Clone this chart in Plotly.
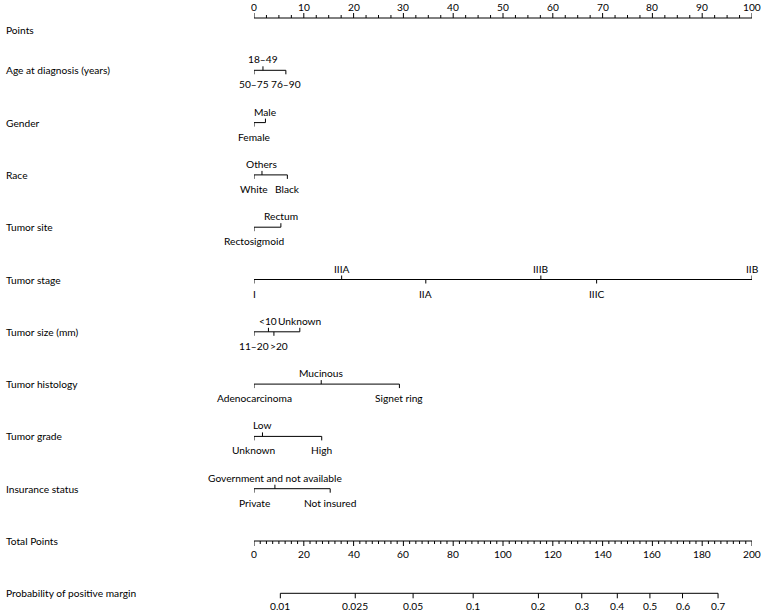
import math
import plotly.graph_objects as go

# ---------------- data ----------------
row_labels = ["Points", "Age at diagnosis (years)", "Gender", "Race", "Tumor site",
              "Tumor stage", "Tumor size (mm)", "Tumor histology", "Tumor grade",
              "Insurance status", "Total Points", "Probability of positive margin"]

age_cats = ["18–49", "50–75", "76–90"]
age_pts = [1.8, 0, 6.4]
age_side = ["up", "down", "down"]

gender_cats = ["Male", "Female"]
gender_pts = [2.3, 0]
gender_side = ["up", "down"]

race_cats = ["Others", "White", "Black"]
race_pts = [1.6, 0, 6.7]
race_side = ["up", "down", "down"]

site_cats = ["Rectum", "Rectosigmoid"]
site_pts = [5.4, 0]
site_side = ["up", "down"]

stage_cats = ["IIIA", "IIIB", "IIB", "I", "IIA", "IIIC"]
stage_pts = [17.6, 57.6, 100, 0, 34.5, 68.8]
stage_side = ["up", "up", "up", "down", "down", "down"]

size_cats = ["<10", "Unknown", "11–20", ">20"]
size_pts = [2.9, 9.2, 0, 4.0]
size_side = ["up", "up", "down", "down"]

hist_cats = ["Mucinous", "Adenocarcinoma", "Signet ring"]
hist_pts = [13.5, 0, 29.2]
hist_side = ["up", "down", "down"]

grade_cats = ["Low", "Unknown", "High"]
grade_pts = [1.7, 0, 13.6]
grade_side = ["up", "down", "down"]

ins_cats = ["Government and not available", "Private", "Not insured"]
ins_pts = [4.2, 0, 15.3]
ins_side = ["up", "down", "down"]

points_major = list(range(0, 101, 10))
points_minor_step = 2.5
total_major = list(range(0, 201, 20))
total_minor_step = 2.5
total_max = 200
prob_ticks = [0.01, 0.025, 0.05, 0.1, 0.2, 0.3, 0.4, 0.5, 0.6, 0.7]
prob_labels = ["0.01", "0.025", "0.05", "0.1", "0.2", "0.3", "0.4", "0.5", "0.6", "0.7"]
tp_intercept = 159.0   # total points at logit = 0
tp_slope = 32.3        # total points per logit unit

# ---------------- styling ----------------
FONT = "Lato"
FS = 10.2
ROW_PX = 52.3
TOP_PX = 18
W, H = 764, 613
ML, MR = 254, 12
px = 1.0 / ROW_PX  # one pixel in row units
label_xshift = {">20": 5}

fig = go.Figure()
annotations = []
lx, ly = [], []


def seg(x0, y0, x1, y1):
    lx.extend([x0, x1, None])
    ly.extend([y0, y1, None])


def text(x, y, s, yshift=0, xshift=0):
    annotations.append(dict(x=x, y=y, xref="x", yref="y", text=s, showarrow=False,
                            yshift=yshift, xshift=xshift, xanchor="center", yanchor="middle",
                            font=dict(family=FONT, size=FS, color="black")))


# row titles
for i, lab in enumerate(row_labels):
    annotations.append(dict(x=0, y=i, xref="paper", yref="y", text=lab, showarrow=False,
                            xanchor="left", yanchor="middle", xshift=-(ML - 4),
                            yshift=-12 if i == 0 else 0,
                            font=dict(family=FONT, size=FS, color="black")))

# Points axis (row 0)
seg(0, 0, 100, 0)
v = 0.0
while v <= 100 + 1e-9:
    major = abs(v / 10 - round(v / 10)) < 1e-9
    seg(v, 0, v, 0 - (5 if major else 3) * px)
    v += points_minor_step
for t in points_major:
    text(t, 0, str(t), yshift=11)

# categorical variables
variables = [
    (age_cats, age_pts, age_side),
    (gender_cats, gender_pts, gender_side),
    (race_cats, race_pts, race_side),
    (site_cats, site_pts, site_side),
    (stage_cats, stage_pts, stage_side),
    (size_cats, size_pts, size_side),
    (hist_cats, hist_pts, hist_side),
    (grade_cats, grade_pts, grade_side),
    (ins_cats, ins_pts, ins_side),
]
for r, (cats, pts, sides) in enumerate(variables, start=1):
    seg(min(pts), r, max(pts), r)
    for c, p, s in zip(cats, pts, sides):
        xs = label_xshift.get(c, 0)
        if s == "up":
            seg(p, r, p, r - 4 * px)
            text(p, r, c, yshift=11, xshift=xs)
        else:
            seg(p, r, p, r + 4 * px)
            text(p, r, c, yshift=-14, xshift=xs)

# Total points axis (row 10)
r = 10
scale = 100.0 / total_max
seg(0, r, total_max * scale, r)
v = 0.0
while v <= total_max + 1e-9:
    major = abs(v / 20 - round(v / 20)) < 1e-9
    seg(v * scale, r, v * scale, r + (5 if major else 3) * px)
    v += total_minor_step
for t in total_major:
    text(t * scale, r, str(t), yshift=-13)

# Probability axis (row 11)
r = 11
prob_x = [(tp_intercept + tp_slope * math.log(p / (1 - p))) * scale for p in prob_ticks]
seg(prob_x[0], r, prob_x[-1], r)
for xv, lab in zip(prob_x, prob_labels):
    seg(xv, r, xv, r + 5 * px)
    text(xv, r, lab, yshift=-13)

fig.add_trace(go.Scatter(x=lx, y=ly, mode="lines", line=dict(color="black", width=1),
                         hoverinfo="skip", showlegend=False, cliponaxis=False))

ytop = -TOP_PX / ROW_PX
ybot = (H - TOP_PX) / ROW_PX
fig.update_layout(
    width=W, height=H,
    margin=dict(l=ML, r=MR, t=0, b=0, pad=0),
    paper_bgcolor="white", plot_bgcolor="white",
    xaxis=dict(range=[0, 100], visible=False, fixedrange=True),
    yaxis=dict(range=[ybot, ytop], visible=False, fixedrange=True),
    annotations=annotations,
    showlegend=False,
    hovermode=False,
)

fig.write_html("out.html", config={"displayModeBar": False},
               post_script="document.body.style.margin='0';document.body.style.overflow='hidden';")
